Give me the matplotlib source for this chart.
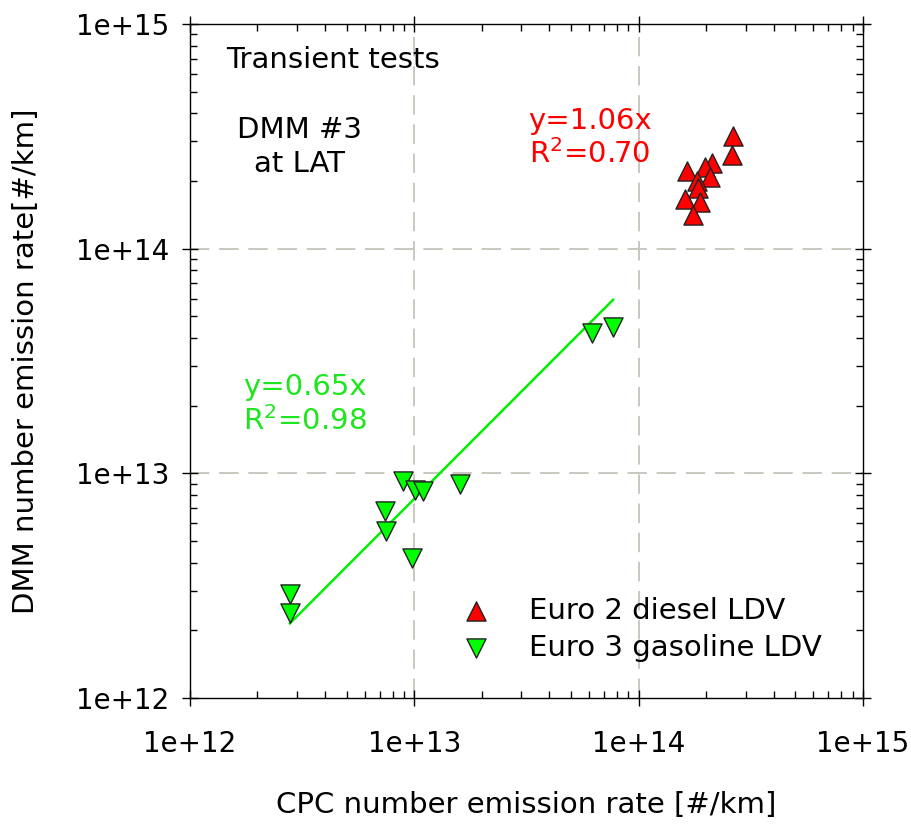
import numpy as np
import matplotlib
matplotlib.use("Agg")
import matplotlib.pyplot as plt
from matplotlib.ticker import LogLocator, FuncFormatter

# Euro 2 diesel LDV (red, up triangles)
diesel_cpc = [2.64e14, 2.61e14, 2.12e14, 1.98e14, 1.64e14, 2.08e14, 1.82e14, 1.84e14, 1.61e14, 1.88e14, 1.75e14]
diesel_dmm = [3.17e14, 2.61e14, 2.40e14, 2.31e14, 2.21e14, 2.08e14, 2.00e14, 1.86e14, 1.66e14, 1.61e14, 1.41e14]

# Euro 3 gasoline LDV (green, down triangles)
gasoline_cpc = [2.79e12, 2.79e12, 7.40e12, 7.46e12, 9.77e12, 8.9e12, 1.01e13, 1.09e13, 1.60e13, 6.20e13, 7.69e13]
gasoline_dmm = [2.90e12, 2.39e12, 6.80e12, 5.54e12, 4.20e12, 9.25e12, 8.43e12, 8.34e12, 8.96e12, 4.21e13, 4.48e13]

# slope of the drawn regression line as it appears in the figure
gasoline_line_slope = 0.77

labels = ["Euro 2 diesel LDV", "Euro 3 gasoline LDV"]
diesel_fit_text = "y=1.06x\nR$^2$=0.70"
gasoline_fit_text = "y=0.65x\nR$^2$=0.98"

RED = "#ff0000"
GREEN = "#00ff00"
GREEN_TXT = "#1ee61e"
FS = 21

plt.rcParams["font.family"] = ["DejaVu Sans"]
plt.rcParams["mathtext.fontset"] = "dejavusans"

fig = plt.figure(figsize=(9.11, 8.24), dpi=100)
ax = fig.add_axes([0.2085, 0.1529, 0.7388, 0.8180])

ax.set_xscale("log")
ax.set_yscale("log")
ax.set_xlim(1e12, 1e15)
ax.set_ylim(1e12, 1e15)

# grid only at the inner decades
for v in [1e13, 1e14]:
    ax.axvline(v, color="#c8c8c0", lw=1.4, ls=(0, (10, 5)), zorder=0)
    ax.axhline(v, color="#c8c8c0", lw=1.4, ls=(0, (10, 5)), zorder=0)

# regression line for gasoline
xl = np.array([min(gasoline_cpc), max(gasoline_cpc)])
ax.plot(xl, gasoline_line_slope * xl, color="#00f000", lw=1.8, zorder=2)

ax.scatter(gasoline_cpc, gasoline_dmm, marker="v", s=190, c=GREEN,
           edgecolors="#222222", linewidths=1.0, zorder=3, label=labels[1])
ax.scatter(diesel_cpc, diesel_dmm, marker="^", s=190, c=RED,
           edgecolors="#222222", linewidths=1.0, zorder=3, label=labels[0])

fmt = FuncFormatter(lambda v, p: f"{v:.0e}")
ax.xaxis.set_major_formatter(fmt)
ax.yaxis.set_major_formatter(fmt)
ax.xaxis.set_major_locator(LogLocator(base=10, numticks=10))
ax.yaxis.set_major_locator(LogLocator(base=10, numticks=10))
ax.xaxis.set_minor_locator(LogLocator(base=10, subs=np.arange(2, 10), numticks=20))
ax.yaxis.set_minor_locator(LogLocator(base=10, subs=np.arange(2, 10), numticks=20))
ax.tick_params(which="major", direction="inout", length=12, width=1, top=True, right=True,
               labelsize=20)
ax.tick_params(axis="x", which="major", pad=17)
ax.tick_params(axis="y", which="major", pad=9)
ax.tick_params(which="minor", direction="in", length=5, width=1, top=True, right=True)
for s in ax.spines.values():
    s.set_linewidth(1.0)

ax.set_xlabel("CPC number emission rate [#/km]", fontsize=FS, labelpad=24)
ax.set_ylabel("DMM number emission rate[#/km]", fontsize=FS, labelpad=26)

ax.text(0.2125, 0.9466, "Transient tests", transform=ax.transAxes, ha="center", va="center", fontsize=FS)
ax.text(0.163, 0.8175, "DMM #3\nat LAT", transform=ax.transAxes, ha="center", va="center",
        fontsize=FS, linespacing=1.25)
ax.text(0.594, 0.831, diesel_fit_text, transform=ax.transAxes, ha="center", va="center",
        fontsize=FS, color=RED, linespacing=1.2)
ax.text(0.171, 0.435, gasoline_fit_text, transform=ax.transAxes, ha="center", va="center",
        fontsize=FS, color=GREEN_TXT, linespacing=1.2)

handles, lbls = ax.get_legend_handles_labels()
ax.legend(handles[::-1], lbls[::-1], loc="center left", bbox_to_anchor=(0.342, 0.102),
          frameon=False, fontsize=FS, handlelength=2.0, handletextpad=0.83,
          labelspacing=0.3, scatterpoints=1, markerscale=1.0)

fig.savefig("out.png", dpi=100)
